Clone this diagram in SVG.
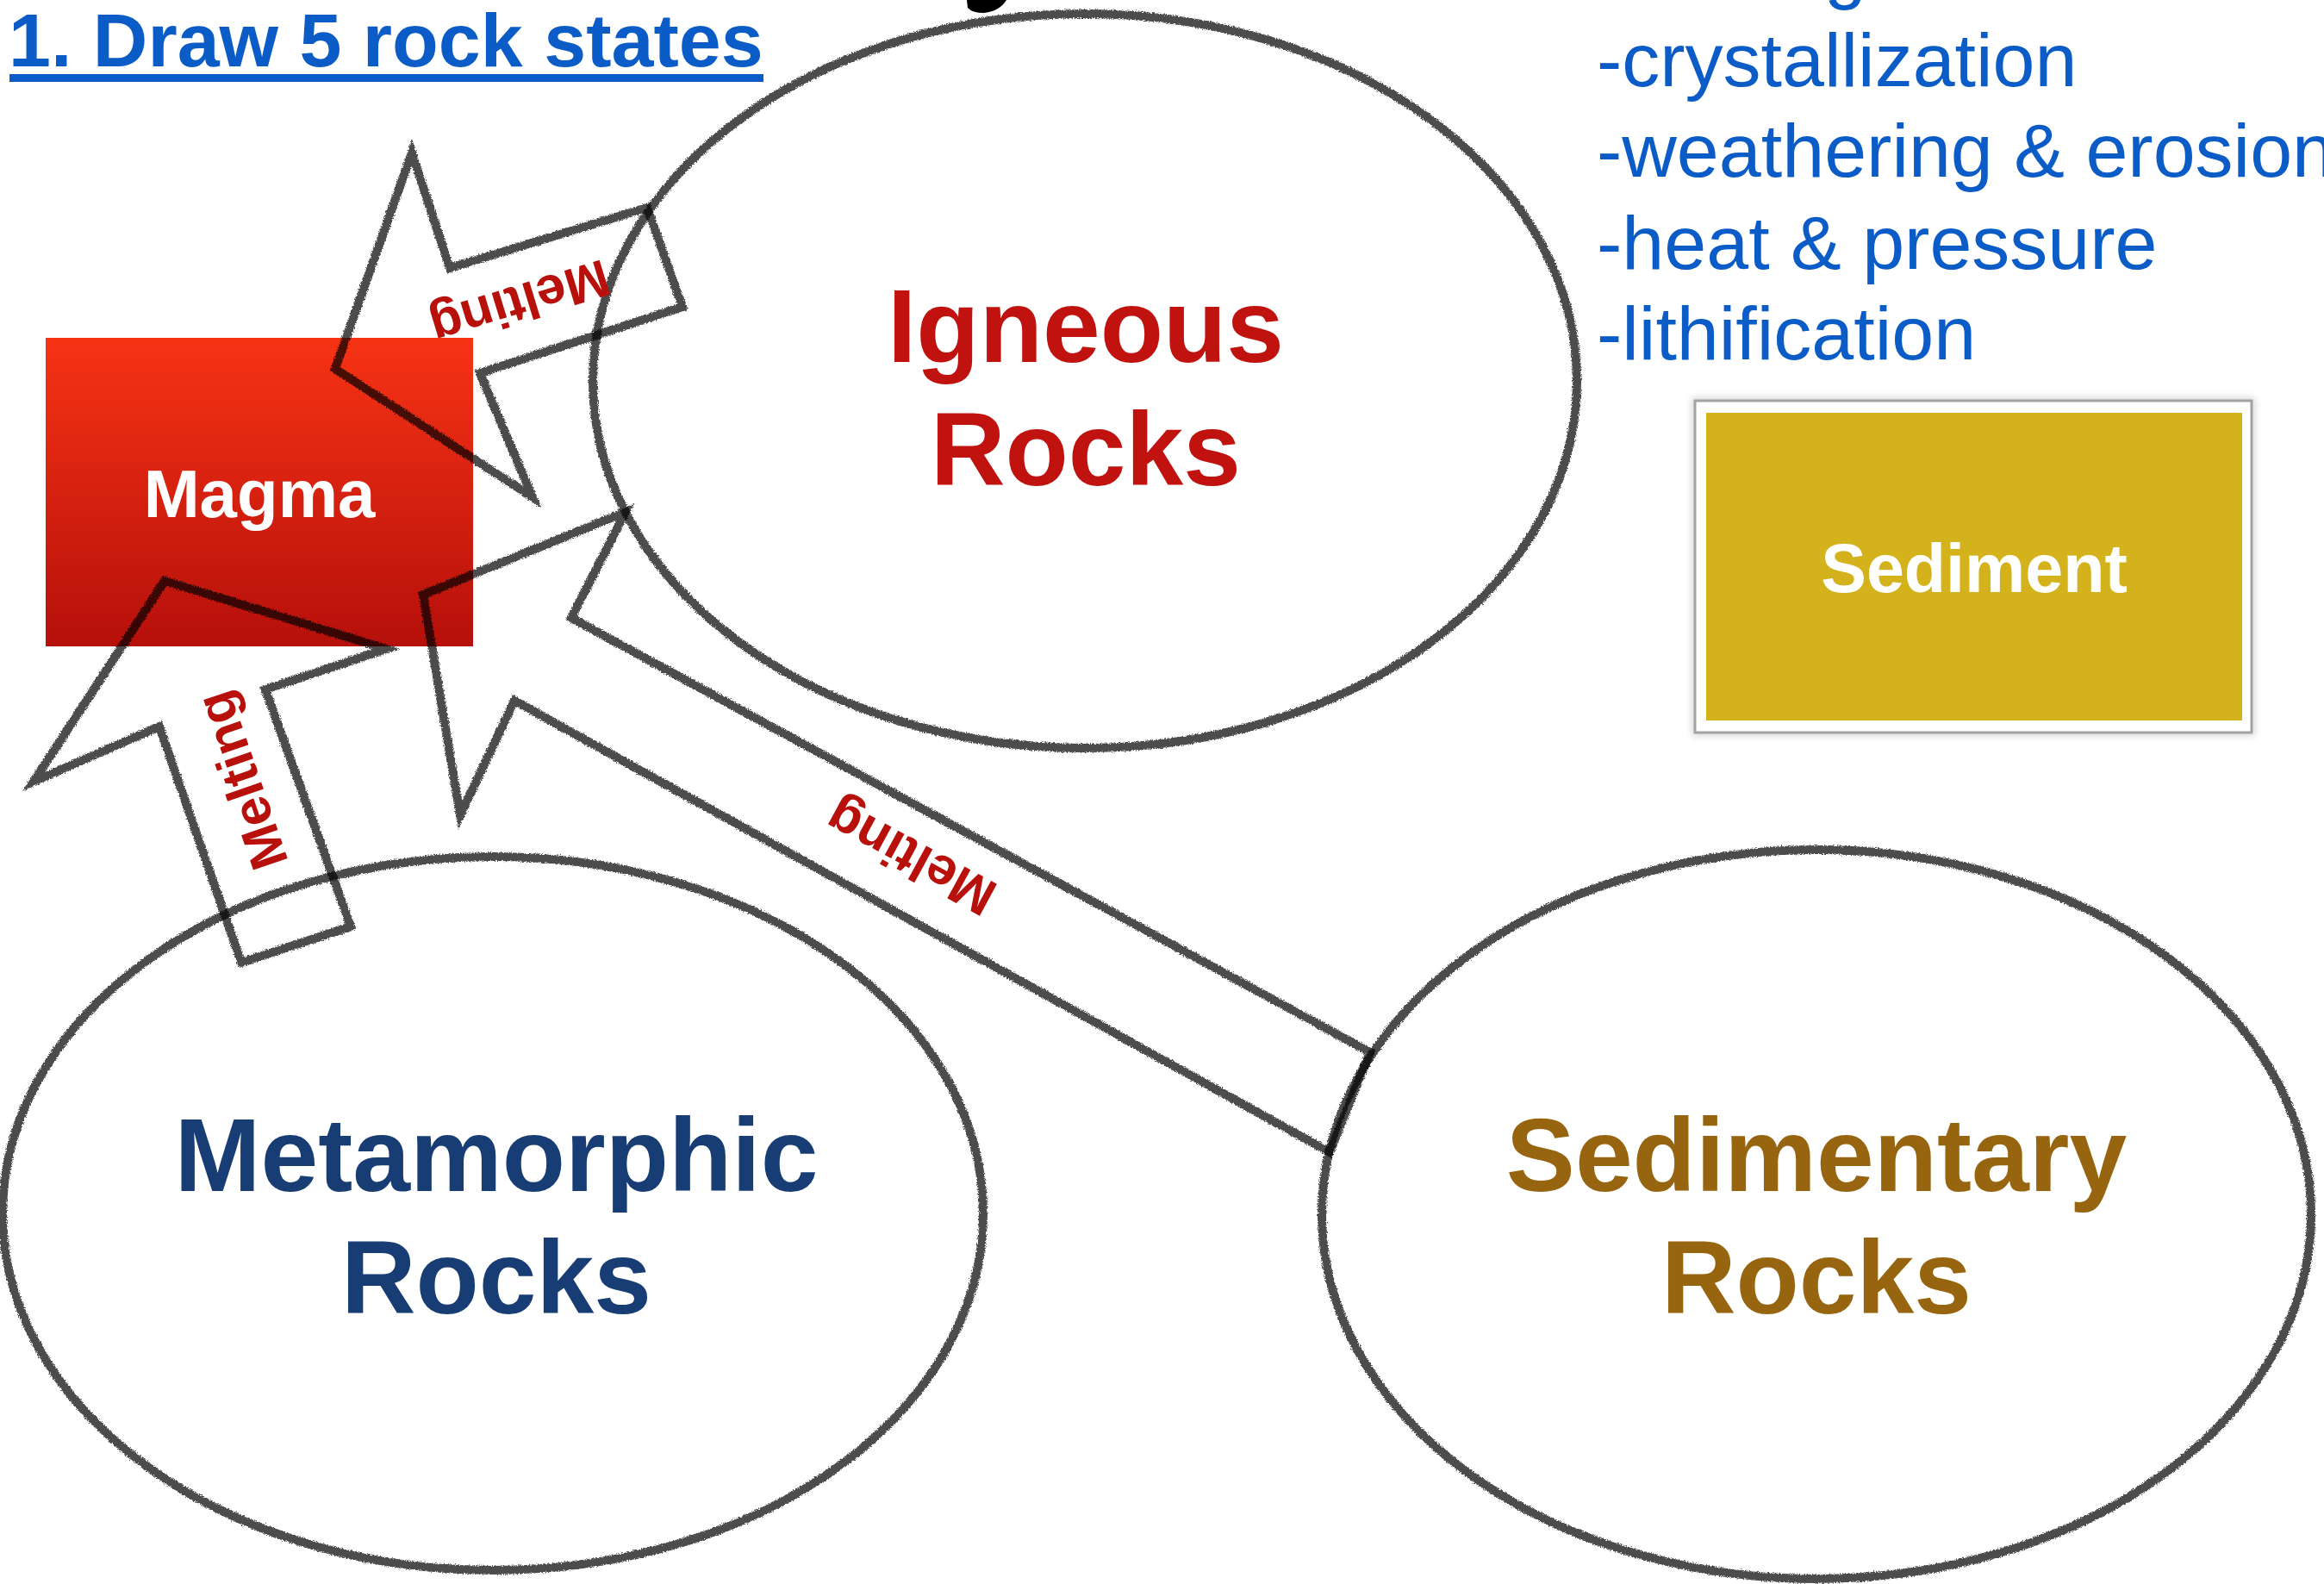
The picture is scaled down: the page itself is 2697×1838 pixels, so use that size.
<svg xmlns="http://www.w3.org/2000/svg" width="2697" height="1838" viewBox="0 0 2697 1838">
<defs>
<style>
.sk{fill:none;stroke:#000;stroke-opacity:.7;stroke-width:10;stroke-linejoin:miter;stroke-miterlimit:10}
.big{font-family:"Liberation Sans",Arial,sans-serif;font-weight:bold;font-size:120px;text-anchor:middle}
.mel{font-family:"Liberation Sans",Arial,sans-serif;font-weight:bold;font-size:61px;fill:#b8100b;text-anchor:middle}
.list{font-family:"Liberation Sans",Arial,sans-serif;font-size:88px;fill:#0b5cc6}
.box{font-family:"Liberation Sans",Arial,sans-serif;font-weight:bold;fill:#fff;text-anchor:middle}
</style>
<linearGradient id="magmaGrad" x1="0" y1="0" x2="0" y2="1">
<stop offset="0" stop-color="#f73314"/>
<stop offset="1" stop-color="#b5100b"/>
</linearGradient>
<filter id="rough" x="-3%" y="-3%" width="106%" height="106%">
<feTurbulence type="fractalNoise" baseFrequency="0.7" numOctaves="2" seed="4" result="n"/>
<feDisplacementMap in="SourceGraphic" in2="n" scale="5" xChannelSelector="R" yChannelSelector="G"/>
</filter>
<filter id="shadow" x="-5%" y="-5%" width="110%" height="110%">
<feGaussianBlur stdDeviation="4"/>
</filter>
</defs>
<rect width="2697" height="1838" fill="#fff"/>

<!-- title fragment -->
<path d="M1122,0 L1123,9 Q1128,15 1142,15 Q1160,13 1168,0 Z" fill="#000"/>

<g id="title">
<text x="10" y="77" font-family="'Liberation Sans',Arial,sans-serif" font-weight="bold" font-size="88" fill="#0b5cc6">1. Draw 5 rock states</text>
<rect x="11" y="86" width="875" height="9" fill="#0b5cc6"/>
</g>

<g id="process-list">
<text class="list" x="1853" y="-6">-melting</text>
<text class="list" x="1853" y="100">-crystallization</text>
<text class="list" x="1853" y="205">-weathering &amp; erosion</text>
<text class="list" x="1853" y="312">-heat &amp; pressure</text>
<text class="list" x="1853" y="417">-lithification</text>
</g>

<g id="magma">
<rect x="53" y="392" width="496" height="358" fill="url(#magmaGrad)"/>
<text class="box" x="301" y="600" font-size="78">Magma</text>
</g>

<g id="sediment">
<rect x="1963" y="461" width="654" height="393" fill="#000" opacity="0.15" filter="url(#shadow)"/>
<rect x="1967" y="465" width="646" height="385" fill="#fff" stroke="#a3a3a3" stroke-width="3"/>
<rect x="1980" y="479" width="622" height="357" fill="#d4b21c"/>
<text class="box" x="2291" y="687" font-size="79">Sediment</text>
</g>

<g id="igneous">
<ellipse class="sk" cx="1259" cy="442" rx="571" ry="426" filter="url(#rough)"/>
<text class="big" x="1260" y="420" fill="#c0130f">Igneous</text>
<text class="big" x="1260" y="563" fill="#c0130f">Rocks</text>
</g>

<g id="metamorphic">
<ellipse class="sk" cx="572" cy="1408" rx="569" ry="414" filter="url(#rough)"/>
<text class="big" x="576" y="1382" fill="#173d74">Metamorphic</text>
<text class="big" x="576" y="1524" fill="#173d74">Rocks</text>
</g>

<g id="sedimentary">
<ellipse class="sk" cx="2108" cy="1409" rx="574" ry="423" filter="url(#rough)"/>
<text class="big" x="2108" y="1382" fill="#97650f">Sedimentary</text>
<text class="big" x="2108" y="1524" fill="#97650f">Rocks</text>
</g>

<g id="connectors">
<g filter="url(#rough)">
<polygon class="sk" points="478,177 522,311 751,241 792,356 557,433 618,577 389,428"/>
<polygon class="sk" points="191,674 448,753 308,800 407,1075 280,1117 185,843 39,907"/>
<polygon class="sk" points="491,690 726,594 663,717 1590,1221 1543,1337 597,813 534,946"/>
</g>
<text class="mel" transform="translate(602,347) rotate(163)" y="16">Melting</text>
<text class="mel" transform="translate(285,904) rotate(-109)" y="16">Melting</text>
<text class="mel" transform="translate(1059,991) rotate(-151.5)" y="16">Melting</text>
</g>
</svg>
